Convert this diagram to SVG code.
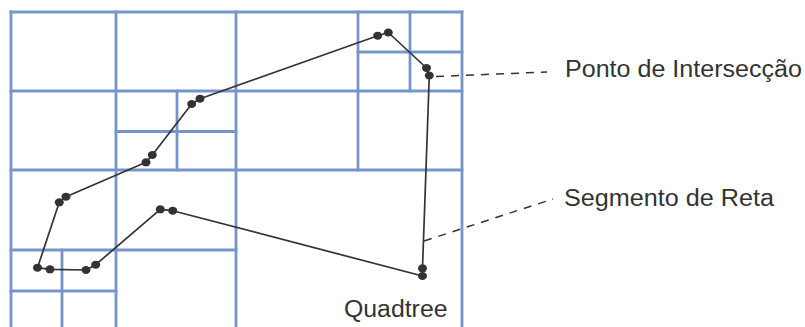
<svg xmlns="http://www.w3.org/2000/svg" width="805" height="327" viewBox="0 0 805 327">
<style>
.grid{stroke:#7895CB;stroke-width:2.8;fill:none;stroke-linecap:square}
.seg{stroke:#333;stroke-width:1.7;fill:none;stroke-linejoin:round}
.dot{fill:#333}
.lead{stroke:#333;stroke-width:1.5;fill:none;stroke-dasharray:8 7}
.lbl{font-family:"Liberation Sans",Arial,sans-serif;font-size:23.5px;fill:#333}
</style>
<rect width="805" height="327" fill="#fff"/>
<g id="quadtree-grid" class="grid">
<line x1="11" y1="12" x2="11" y2="328"/>
<line x1="116" y1="12" x2="116" y2="328"/>
<line x1="236" y1="12" x2="236" y2="328"/>
<line x1="358" y1="12" x2="358" y2="170"/>
<line x1="410" y1="12" x2="410" y2="91"/>
<line x1="462" y1="12" x2="462" y2="328"/>
<line x1="177" y1="91" x2="177" y2="170"/>
<line x1="62" y1="250" x2="62" y2="328"/>
<line x1="11" y1="12" x2="462" y2="12"/>
<line x1="11" y1="91" x2="462" y2="91"/>
<line x1="116" y1="131.5" x2="236" y2="131.5"/>
<line x1="358" y1="52" x2="462" y2="52"/>
<line x1="11" y1="170" x2="462" y2="170"/>
<line x1="11" y1="250" x2="236" y2="250"/>
<line x1="11" y1="291" x2="116" y2="291"/>
</g>
<g id="connectors">
<polygon class="seg" points="37.5,267.7 59.3,202.3 66,196.7 146,162.3 152.3,155 191.7,104 200,98.7 377.7,35.7 388.3,32.5 426.5,68 429.3,75.5 422.5,268.3 422.5,276 172.7,210.7 160.3,209.3 95.7,264.7 86,270 50,269.3"/>
<line class="lead" x1="436" y1="76.5" x2="547" y2="72"/>
<line class="lead" x1="424" y1="241" x2="553" y2="199"/>
</g>
<g id="points" class="dot">
<ellipse cx="37.5" cy="267.7" rx="4.5" ry="4"/>
<ellipse cx="50" cy="269.3" rx="4.5" ry="4"/>
<ellipse cx="86" cy="270" rx="4.5" ry="4"/>
<ellipse cx="95.7" cy="264.7" rx="4.5" ry="4"/>
<ellipse cx="160.3" cy="209.3" rx="4.5" ry="4"/>
<ellipse cx="172.7" cy="210.7" rx="4.5" ry="4"/>
<ellipse cx="59.3" cy="202.3" rx="4.5" ry="4"/>
<ellipse cx="66" cy="196.7" rx="4.5" ry="4"/>
<ellipse cx="146" cy="162.3" rx="4.5" ry="4"/>
<ellipse cx="152.3" cy="155" rx="4.5" ry="4"/>
<ellipse cx="191.7" cy="104" rx="4.5" ry="4"/>
<ellipse cx="200" cy="98.7" rx="4.5" ry="4"/>
<ellipse cx="377.7" cy="35.7" rx="4.5" ry="4"/>
<ellipse cx="388.3" cy="32.5" rx="4.5" ry="4"/>
<ellipse cx="426.5" cy="68" rx="4.5" ry="4"/>
<ellipse cx="429.3" cy="75.5" rx="4.5" ry="4"/>
<ellipse cx="422.5" cy="268.3" rx="4.5" ry="4"/>
<ellipse cx="422.5" cy="276" rx="4.5" ry="4"/>
</g>
<g id="label-ponto">
<text class="lbl" x="565" y="77.3" textLength="237" lengthAdjust="spacingAndGlyphs">Ponto de Intersecção</text>
</g>
<g id="label-segmento">
<text class="lbl" x="564" y="206" textLength="210" lengthAdjust="spacingAndGlyphs">Segmento de Reta</text>
</g>
<g id="label-quadtree">
<text class="lbl" x="344" y="316.7" textLength="103.5" lengthAdjust="spacingAndGlyphs">Quadtree</text>
</g>
</svg>
